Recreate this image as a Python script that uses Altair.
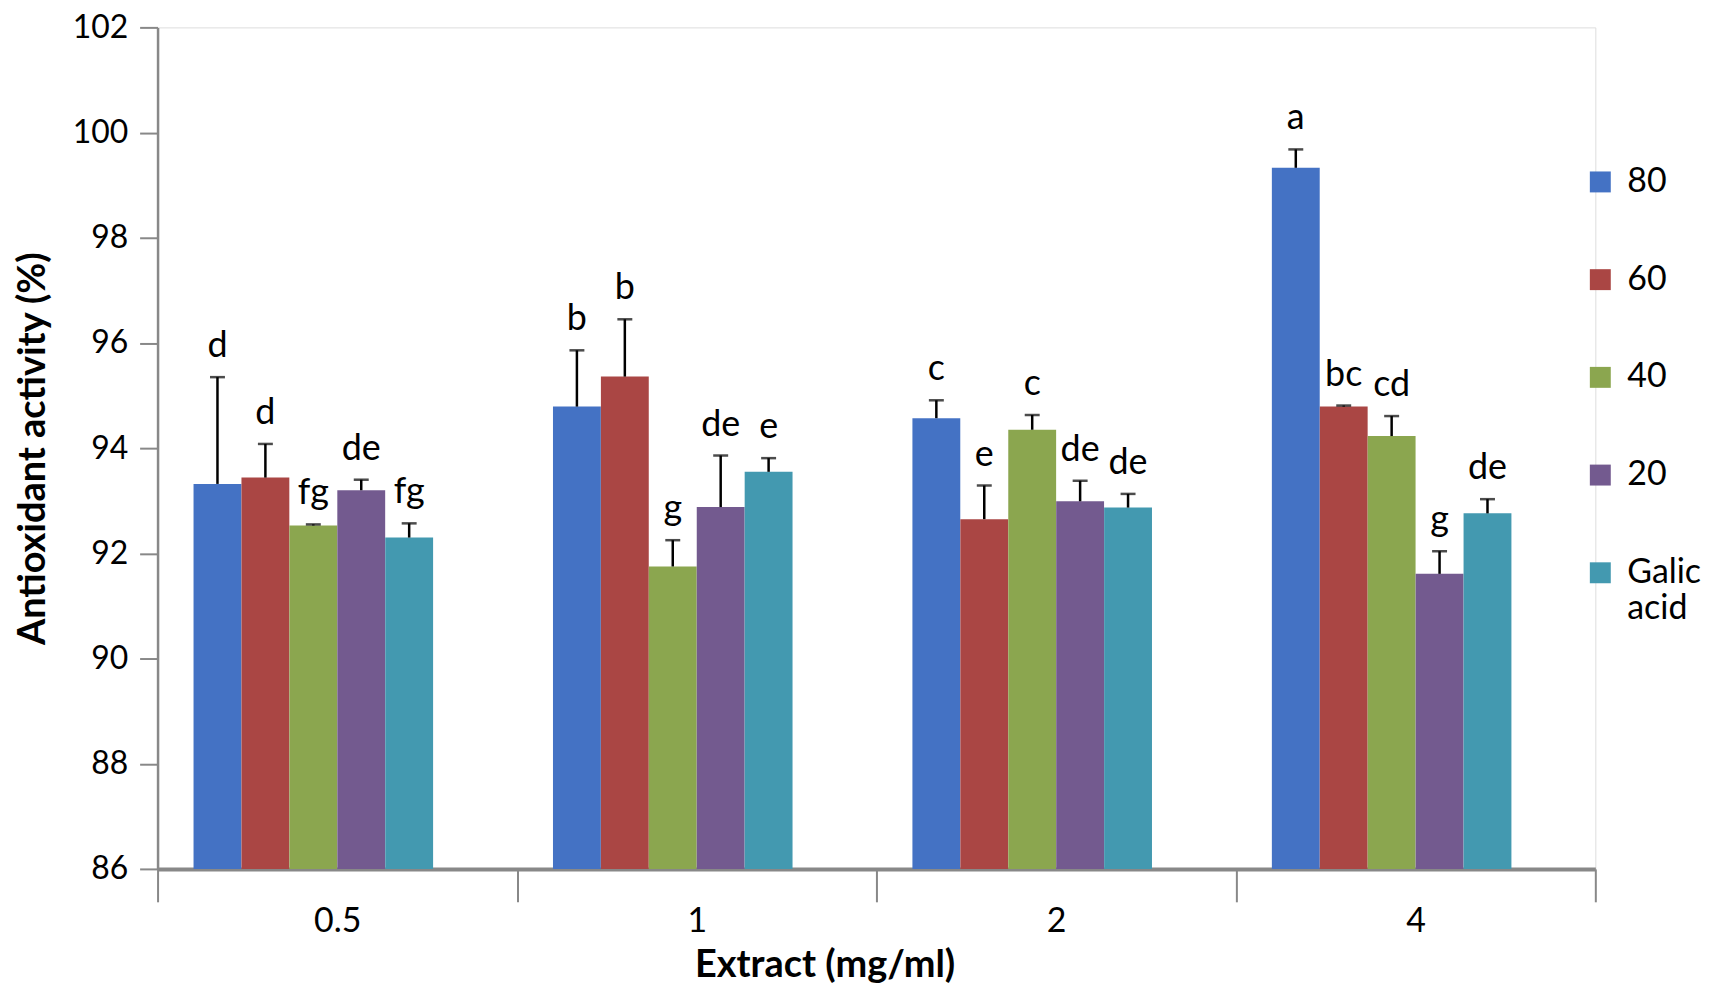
import altair as alt
import pandas as pd

# ---- data ----
concentrations = ["0.5", "1", "2", "4"]
series_names = ["80", "60", "40", "20", "Galic acid"]
series_colors = ["#4472C4", "#AA4644", "#8BA64F", "#735A8F", "#4399B0"]

values = {
    "80": [93.32, 94.79, 94.57, 99.33],
    "60": [93.44, 95.36, 92.65, 94.79],
    "40": [92.53, 91.75, 94.35, 94.23],
    "20": [93.20, 92.88, 92.99, 91.61],
    "Galic acid": [92.30, 93.55, 92.87, 92.76],
}
errors = {
    "80": [2.03, 1.07, 0.34, 0.35],
    "60": [0.64, 1.09, 0.64, 0.02],
    "40": [0.02, 0.50, 0.28, 0.38],
    "20": [0.20, 0.98, 0.39, 0.43],
    "Galic acid": [0.27, 0.26, 0.26, 0.27],
}
letters = {
    "80": ["d", "b", "c", "a"],
    "60": ["d", "b", "e", "bc"],
    "40": ["fg", "g", "c", "cd"],
    "20": ["de", "de", "de", "g"],
    "Galic acid": ["fg", "e", "de", "de"],
}
y_min, y_max, y_step = 86, 102, 2

rows = []
for s in series_names:
    for i, c in enumerate(concentrations):
        rows.append({"conc": c, "series": s, "value": values[s][i],
                     "err": errors[s][i], "letter": letters[s][i]})
df = pd.DataFrame(rows)

FONT = "Lato"

# an empty slot after each group gives the (off-centre) gap between groups
offset_domain = series_names + ["_gap"]

x_enc = alt.X("conc:N", sort=concentrations,
              scale=alt.Scale(paddingInner=0, paddingOuter=0),
              axis=alt.Axis(title="Extract (mg/ml)", labelAngle=0,
                            tickBand="extent", tickSize=33, tickColor="#888888",
                            tickWidth=2, domainColor="#888888", domainWidth=4,
                            labelFontSize=34, labelFont=FONT, labelColor="black",
                            labelPadding=3, titleFont=FONT, titleFontSize=38,
                            titleFontWeight="bold", titleColor="black",
                            titlePadding=8, titleX=669, titleAlign="center"))
xoff = alt.XOffset("series:N",
                   scale=alt.Scale(domain=offset_domain, paddingInner=0,
                                   paddingOuter=0.75))
y_scale = alt.Scale(domain=[y_min, y_max], zero=False, nice=False)

base = alt.Chart(df).transform_calculate(top="datum.value + datum.err")

bars = base.mark_bar(size=48).encode(
    x=x_enc,
    xOffset=xoff,
    y=alt.Y("value:Q", scale=y_scale,
            axis=alt.Axis(title="Antioxidant activity (%)",
                          values=list(range(y_min, y_max + 1, y_step)),
                          grid=False, tickSize=18, tickColor="#888888",
                          tickWidth=2, domainColor="#888888", domainWidth=2.5,
                          labelFontSize=32, labelFont=FONT, labelColor="black",
                          labelPadding=12, titleFont=FONT, titleFontSize=38,
                          titleFontWeight="bold", titleColor="black",
                          titlePadding=20)),
    y2=alt.datum(y_min),
    color=alt.Color("series:N", sort=series_names,
                    scale=alt.Scale(domain=series_names, range=series_colors),
                    legend=alt.Legend(title=None, orient="none", legendX=1430,
                                      legendY=138, symbolType="square",
                                      symbolSize=441, symbolStrokeWidth=0,
                                      labelFontSize=34, labelFont=FONT,
                                      labelColor="black", rowPadding=64,
                                      labelOffset=10, labelLimit=200,
                                      labelExpr="datum.label == 'Galic acid' ? ['Galic', 'acid'] : datum.label")),
)

err_rule = base.mark_rule(color="black", strokeWidth=2.5).encode(
    x=alt.X("conc:N", sort=concentrations), xOffset=xoff,
    y=alt.Y("value:Q", scale=y_scale), y2="top:Q")

err_cap = base.mark_tick(color="black", thickness=2.5, size=15).encode(
    x=alt.X("conc:N", sort=concentrations), xOffset=xoff,
    y=alt.Y("top:Q", scale=y_scale))

labels = base.mark_text(font=FONT, fontSize=36, baseline="bottom", dy=-12,
                        color="black").encode(
    x=alt.X("conc:N", sort=concentrations), xOffset=xoff,
    y=alt.Y("top:Q", scale=y_scale), text="letter:N")

chart = alt.layer(bars, err_rule, err_cap, labels).properties(
    width=1442, height=844,
    autosize=alt.AutoSizeParams(type="none"),
    padding={"left": 150, "top": 18, "right": 110, "bottom": 120},
).configure_view(stroke=None).configure(background="white")

chart.save("out.html", embed_options={"renderer": "svg", "actions": False})
